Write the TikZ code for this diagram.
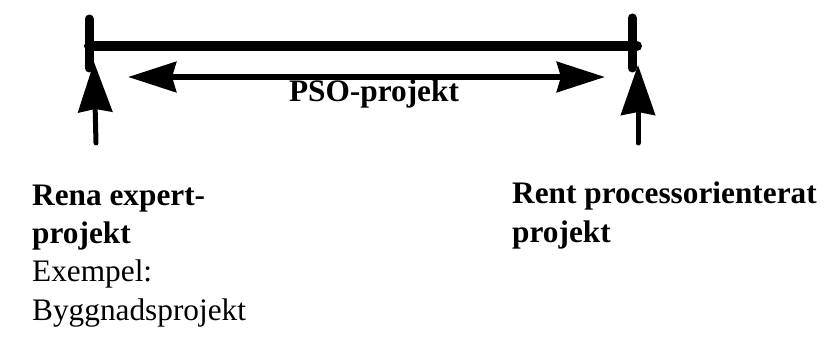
\documentclass[tikz,border=0pt]{standalone}
\usepackage{fontspec}
\setmainfont{Liberation Serif}
\usetikzlibrary{arrows.meta}
\tikzset{
  bar/.style={line width=10pt, line cap=round},
  tickbar/.style={line width=9pt, line cap=round},
  uparrow/.style={line width=5pt, -{Stealth[length=50pt, width=34pt, inset=3pt]}},
  dblarrow/.style={line width=6.5pt, {Stealth[length=48pt, width=30pt, inset=4pt]}-{Stealth[length=48pt, width=30pt, inset=4pt]}},
  lbl/.style={inner sep=0pt, align=left, anchor=base west, font=\fontsize{31.3}{38.3}\selectfont},
}
\begin{document}
\begin{tikzpicture}[x=1pt, y=-1pt]
\useasboundingbox (0,0) rectangle (834,342);
% ticks and main bar
\coordinate (lt) at (89,19);
\coordinate (lb) at (89,68);
\coordinate (rt) at (632,18);
\coordinate (rb) at (632,68);
\coordinate (ml) at (89,46);
\coordinate (mr) at (637,46);
\draw[bar] (ml) -- (mr);
\draw[tickbar] (lt) -- (lb);
\draw[tickbar] (rt) -- (rb);
% double arrow
\coordinate (dl) at (128,77);
\coordinate (dr) at (605,77);
\draw[dblarrow] (dl) -- (dr);
% up arrows
\coordinate (la0) at (96,143);
\coordinate (la1) at (94,62);
\coordinate (ra0) at (638,143);
\coordinate (ra1) at (638,65);
\draw[uparrow, line cap=round] (la0) -- (la1);
\draw[uparrow, line cap=round] (ra0) -- (ra1);
% labels (base anchor = baseline of last line)
\node[lbl, anchor=base] (pso) at (374,102) {\bfseries PSO-projekt};
\node[lbl] (left) at (32,320) {\bfseries Rena expert-\\\bfseries projekt\\Exempel:\\Byggnadsprojekt};
\node[lbl] (right) at (512,242) {\bfseries Rent processorienterat\\\bfseries projekt};
\end{tikzpicture}
\end{document}
